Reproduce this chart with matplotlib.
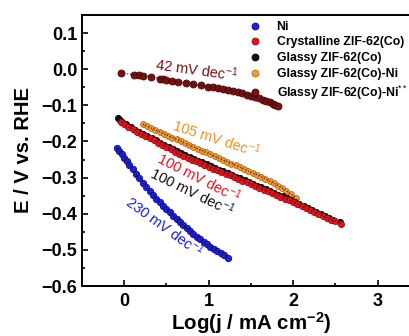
import matplotlib
matplotlib.use("Agg")
import matplotlib.pyplot as plt
from matplotlib.lines import Line2D
from matplotlib.ticker import MultipleLocator

# Tafel data: log(j / mA cm-2), E / V vs RHE
NI_X = [-0.086, -0.06, -0.03, 0.00, 0.03, 0.06, 0.10, 0.14, 0.18, 0.22, 0.26, 0.30,
        0.34, 0.38, 0.42, 0.46, 0.50, 0.54, 0.58, 0.62, 0.66, 0.70, 0.74, 0.78,
        0.82, 0.86, 0.90, 0.94, 0.98, 1.02, 1.06, 1.10, 1.14, 1.18, 1.227]
NI_Y = [-0.218, -0.227, -0.236, -0.245, -0.255, -0.265, -0.277, -0.290, -0.302, -0.314,
        -0.326, -0.337, -0.348, -0.358, -0.368, -0.378, -0.387, -0.396, -0.405, -0.414,
        -0.423, -0.432, -0.440, -0.448, -0.456, -0.464, -0.471, -0.478, -0.485, -0.491,
        -0.497, -0.503, -0.509, -0.515, -0.522]

CRYS_X = [-0.035, 0.00, 0.05, 0.10, 0.15, 0.20, 0.25, 0.30, 0.35, 0.40, 0.45, 0.50,
          0.55, 0.60, 0.65, 0.70, 0.75, 0.80, 0.85, 0.90, 0.95, 1.00, 1.05, 1.10,
          1.15, 1.20, 1.25, 1.30, 1.35, 1.40, 1.45, 1.50, 1.55, 1.60, 1.65, 1.70,
          1.75, 1.80, 1.85, 1.90, 1.95, 2.00, 2.05, 2.10, 2.15, 2.20, 2.25, 2.30,
          2.35, 2.40, 2.45, 2.50, 2.57]
CRYS_Y = [-0.146, -0.152, -0.160, -0.166, -0.173, -0.179, -0.185, -0.191, -0.197, -0.203,
          -0.209, -0.215, -0.221, -0.228, -0.234, -0.240, -0.245, -0.250, -0.255, -0.260,
          -0.265, -0.270, -0.275, -0.280, -0.285, -0.289, -0.294, -0.299, -0.304, -0.309,
          -0.313, -0.318, -0.323, -0.328, -0.333, -0.338, -0.343, -0.348, -0.353, -0.358,
          -0.363, -0.368, -0.373, -0.379, -0.384, -0.390, -0.395, -0.400, -0.406, -0.411,
          -0.416, -0.421, -0.428]

GLASS_X = [-0.075, -0.05, -0.025, 0.025, 0.075, 0.125, 0.175, 0.225, 0.275, 0.325,
           0.375, 0.425, 0.475, 0.525, 0.575, 0.625, 0.675, 0.725, 0.775, 0.825,
           0.875, 0.925, 0.975, 1.025, 1.075, 1.125, 1.175, 1.225, 1.275, 1.325,
           1.375, 1.425, 1.475, 1.525, 1.575, 1.625, 1.675, 1.725, 1.775, 1.825,
           1.875, 1.925, 1.975, 2.025, 2.075, 2.125, 2.175, 2.225, 2.275, 2.325,
           2.375, 2.425, 2.475, 2.55]
GLASS_Y = [-0.136, -0.141, -0.145, -0.153, -0.160, -0.167, -0.173, -0.179, -0.185, -0.191,
           -0.197, -0.203, -0.209, -0.215, -0.221, -0.227, -0.233, -0.238, -0.243, -0.248,
           -0.253, -0.258, -0.263, -0.268, -0.273, -0.278, -0.283, -0.287, -0.292, -0.297,
           -0.302, -0.307, -0.312, -0.317, -0.322, -0.327, -0.332, -0.337, -0.342, -0.347,
           -0.352, -0.357, -0.362, -0.367, -0.373, -0.378, -0.384, -0.389, -0.395, -0.400,
           -0.406, -0.411, -0.416, -0.424]

GNI_X = [0.22, 0.27, 0.32, 0.37, 0.42, 0.47, 0.52, 0.57, 0.62, 0.67, 0.72, 0.77,
         0.82, 0.87, 0.92, 0.97, 1.02, 1.07, 1.12, 1.17, 1.22, 1.27, 1.32, 1.37,
         1.42, 1.47, 1.52, 1.57, 1.62, 1.67, 1.72, 1.77, 1.82, 1.87, 1.92, 1.97, 2.035]
GNI_Y = [-0.153, -0.158, -0.163, -0.168, -0.173, -0.179, -0.184, -0.189, -0.194, -0.199,
         -0.205, -0.210, -0.215, -0.220, -0.225, -0.230, -0.235, -0.241, -0.246, -0.251,
         -0.256, -0.261, -0.266, -0.271, -0.277, -0.282, -0.287, -0.292, -0.297, -0.303,
         -0.309, -0.315, -0.322, -0.329, -0.337, -0.345, -0.357]

GNI2_X = [-0.035, 0.12, 0.18, 0.22, 0.32, 0.42, 0.46, 0.50, 0.56, 0.635, 0.73, 0.81,
          0.91, 0.99, 1.05, 1.11, 1.17, 1.23, 1.29, 1.345, 1.40, 1.45, 1.50, 1.55,
          1.60, 1.64, 1.68, 1.72, 1.76, 1.79, 1.82]
GNI2_Y = [-0.011, -0.015, -0.017, -0.018, -0.021, -0.026, -0.028, -0.030, -0.033, -0.036,
          -0.039, -0.042, -0.045, -0.048, -0.050, -0.053, -0.055, -0.058, -0.061, -0.064,
          -0.066, -0.070, -0.073, -0.076, -0.080, -0.084, -0.087, -0.091, -0.095, -0.098,
          -0.101]

LABELS = ["Ni", "Crystalline ZIF-62(Co)", "Glassy ZIF-62(Co)",
          "Glassy ZIF-62(Co)-Ni", r"Glassy ZIF-62(Co)-Ni$^{**}$"]
COLORS = ["#1f1fdc", "#e8141c", "#111111", "#f59b2c", "#7d1012"]
EDGES = ["#0c0c8a", "#9a0a10", "#000000", "#b8661a", "#4a0606"]

# (texto, x, y, rotacion, color)
SLOPES = [
    ("42 mV dec$^{-1}$", 0.85, 0.000, -8, "#7d1012"),
    ("105 mV dec$^{-1}$", 1.09, -0.190, -18, "#f0922a"),
    ("100 mV dec$^{-1}$", 0.88, -0.300, -27, "#e0141e"),
    ("100 mV dec$^{-1}$", 0.80, -0.340, -26, "#111111"),
    ("230 mV dec$^{-1}$", 0.47, -0.435, -36, "#1c1cd6"),
]

plt.rcParams.update({
    "font.family": ["Liberation Sans", "DejaVu Sans"],
    "mathtext.fontset": "custom",
    "mathtext.rm": "Liberation Sans",
    "mathtext.bf": "Liberation Sans:bold",
    "mathtext.it": "Liberation Sans:italic",
})

fig = plt.figure(figsize=(4.09, 3.36), dpi=100)
ax = fig.add_axes([0.2005, 0.1488, 0.826, 0.8065])

series = [(NI_X, NI_Y, 4.6), (CRYS_X, CRYS_Y, 4.4), (GLASS_X, GLASS_Y, 4.4),
          (GNI_X, GNI_Y, 4.2), (GNI2_X, GNI2_Y, 5.0)]
zorders = [3, 4, 3.5, 3, 3]
for (xs, ys, ms), col, ec, z in zip(series, COLORS, EDGES, zorders):
    ax.plot(xs, ys, "o", ms=ms, mfc=col, mec=ec, mew=0.6, zorder=z)
    ax.plot(xs, ys, ":", color="#1a1a1a", lw=0.8, zorder=z + 0.05)

for txt, x, y, rot, col in SLOPES:
    ax.text(x, y, txt, rotation=rot, color=col, fontsize=10.5,
            ha="center", va="center", rotation_mode="anchor")

ax.set_xlim(-0.5, 3.5)
ax.set_ylim(-0.6, 0.15)
ax.xaxis.set_major_locator(MultipleLocator(1))
ax.xaxis.set_minor_locator(MultipleLocator(0.5))
ax.yaxis.set_major_locator(MultipleLocator(0.1))
ax.yaxis.set_minor_locator(MultipleLocator(0.05))
ax.tick_params(which="both", direction="in", width=1.2, labelsize=13, top=False, right=False)
ax.tick_params(which="major", length=4.5)
ax.tick_params(which="minor", length=2.5)
ax.tick_params(axis="x", pad=5)
for lab in ax.get_xticklabels() + ax.get_yticklabels():
    lab.set_fontweight("bold")
for sp in ax.spines.values():
    sp.set_linewidth(1.4)

ax.set_ylabel("E / V vs. RHE", fontsize=14.6, fontweight="bold")
ax.yaxis.set_label_coords(-0.145, 0.502)
ax.set_xlabel(r"Log(j / mA cm$^{\mathbf{-2}}$)", fontsize=14.8, fontweight="bold")
ax.xaxis.set_label_coords(0.5, -0.088)

handles = [Line2D([], [], ls="none", marker="o", ms=5, mfc=c, mec=e, mew=0.6)
           for c, e in zip(COLORS, EDGES)]
fig.legend(handles, LABELS, loc="upper left", bbox_to_anchor=(0.609, 0.938),
           frameon=False, borderpad=0, borderaxespad=0, handlelength=1.0,
           handletextpad=1.25, labelspacing=0.3, prop={"weight": "bold", "size": 8.8})

fig.savefig("out.png", dpi=100)
